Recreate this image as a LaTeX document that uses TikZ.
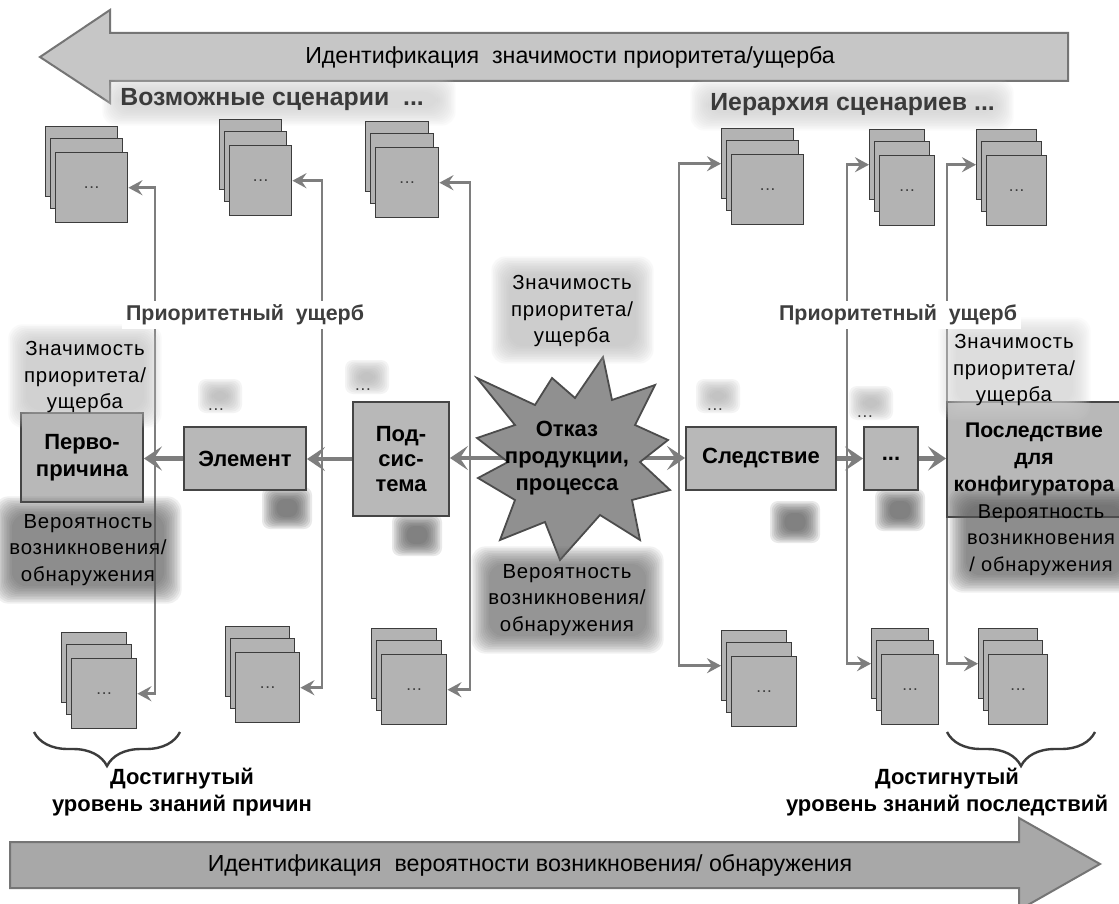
\documentclass[tikz,border=0pt]{standalone}
\usepackage{fontspec}
\setmainfont{Liberation Sans}
\newfontfamily\lblfont[LetterSpace=4]{Liberation Sans}
\usetikzlibrary{arrows.meta,decorations.pathreplacing}
\definecolor{pagefill}{HTML}{B3B3B3}
\definecolor{pageline}{HTML}{3C3C3C}
\definecolor{boxfill}{HTML}{B8B8B8}
\definecolor{boxline}{HTML}{454545}
\definecolor{lncol}{HTML}{7E7E7E}
\definecolor{toparrow}{HTML}{C6C6C6}
\definecolor{botarrow}{HTML}{A8A8A8}
\definecolor{arrline}{HTML}{757575}
\definecolor{starfill}{HTML}{909090}
\definecolor{headcol}{HTML}{3A3A3A}
\definecolor{prio}{HTML}{3E3E3E}
\newcommand{\fsNode}{\fontsize{11}{13.5}\selectfont\bfseries}
\newcommand{\fsLbl}{\fontsize{10.2}{13.3}\selectfont\lblfont}
\newcommand{\fsArrow}{\fontsize{11.6}{13}\selectfont}
\newcommand{\txglow}[5]{\foreach \ii in {0,...,11}{\fill[#5, opacity=0.085, rounded corners=7pt] ({#1-\ii*1.6+4},{#2-\ii*1.6+4}) rectangle ({#3+\ii*1.6-4},{#4+\ii*1.6-4});}}
\newcommand{\fuzzblob}[5]{\foreach \ii in {0,...,8}{\fill[#5, opacity=0.12, rounded corners=4pt] ({#1-#3/2+\ii*1.8},{#2-#4/2+\ii*1.5}) rectangle ({#1+#3/2-\ii*1.8},{#2+#4/2-\ii*1.5});}}
\newcommand{\pagestack}[4]{%
  \node[pagebox, minimum width=#4*0.5pt] (#1b) at (#2,#3) {};
  \node[pagebox, minimum width=#4*0.5pt] (#1m) at ({#2+5},{#3+12}) {};
  \node[pagebox, minimum width=#4*0.5pt] (#1f) at ({#2+10},{#3+26}) {};
  \node[font=\fontsize{8.5}{8.5}\selectfont\lblfont, text=pageline] at (#1f.center) {...};
}
\begin{document}
\begin{tikzpicture}[x=0.5pt,y=-0.5pt,
  pagebox/.style={draw=pageline, fill=pagefill, line width=0.7pt, inner sep=0pt, anchor=north west, minimum height=35pt},
  mainbox/.style={draw=boxline, fill=boxfill, line width=0.9pt, inner sep=0pt, align=center, font=\fsNode},
  conn/.style={draw=lncol, line width=1.4pt, -{Stealth[length=7pt,width=7.5pt,inset=2.5pt]}},
  chain/.style={draw=lncol, line width=2.4pt, -{Stealth[length=9pt,width=12pt,inset=4pt]}},
  bigarrow/.style={draw=arrline, line width=1pt},
  lbl/.style={font=\fsLbl, align=center, inner sep=1pt},
  prioLbl/.style={font=\fontsize{10.7}{12}\selectfont\bfseries, text=prio, fill=white, inner sep=2pt},
  head/.style={font=\fontsize{12.4}{14}\selectfont\bfseries, text=headcol, anchor=west, inner sep=0pt},
  bracesty/.style={draw=pageline, line width=1.2pt, decorate, decoration={brace, amplitude=17pt, aspect=0.5}},
  bracetxt/.style={font=\fsNode, align=center},
  dotlbl/.style={font=\fontsize{8.5}{8.5}\selectfont\lblfont, text=pageline}
]
\useasboundingbox (0,0) rectangle (1119,904);
\fill[white] (0,0) rectangle (1119,904);

% big arrows
\draw[bigarrow, fill=toparrow] (40,57) -- (110,10) -- (110,33) -- (1068,33) -- (1068,81) -- (110,81) -- (110,103) -- cycle;
\node[font=\fsArrow] (toptext) at (570,57) {Идентификация\ \ значимости приоритета/ущерба};
\draw[bigarrow, fill=botarrow] (10,842) -- (1019,842) -- (1019,818) -- (1100,864) -- (1019,910) -- (1019,888) -- (10,888) -- cycle;
\node[font=\fsArrow] (bottext) at (530,865) {Идентификация\ \ вероятности возникновения/ обнаружения};

% headings
\txglow{116}{88}{442}{112}{gray!40}
\node[head] (h1) at (120,100) {Возможные сценарии\ \ ...};
\txglow{704}{93}{1000}{117}{gray!40}
\node[head] (h2) at (710,105) {Иерархия сценариев\ ...};

% junction coordinates
\coordinate (v1) at (155,458);
\coordinate (v2) at (322,458);
\coordinate (v3) at (470,458);
\coordinate (v4) at (679,458);
\coordinate (v5) at (847,458);
\coordinate (v6) at (947,458);
\coordinate (starL) at (505,458);
\coordinate (starR) at (632,458);

% page stacks
\pagestack{S1}{45}{126}{72}
\pagestack{S2}{219}{119}{62}
\pagestack{S3}{365}{121}{63}
\pagestack{B1}{61}{632}{65}
\pagestack{B2}{225}{626}{64}
\pagestack{B3}{371}{628}{65}
\pagestack{R1}{721}{128}{72}
\pagestack{R2}{869}{129}{55}
\pagestack{R3}{976}{129}{60}
\pagestack{Q1}{721}{630}{65}
\pagestack{Q2}{871}{628}{57}
\pagestack{Q3}{978}{628}{59}

% vertical connectors
\draw[conn] (v1) |- (S1f.east);
\draw[conn] (v1) |- (B1f.east);
\draw[conn] (v2) |- (S2f.east);
\draw[conn] (v2) |- (B2f.east);
\draw[conn] (v3) |- (S3f.east);
\draw[conn] (v3) |- (B3f.east);
\draw[conn] (v4) |- (R1b.west);
\draw[conn] (v4) |- (Q1b.west);
\draw[conn] (v5) |- (R2b.west);
\draw[conn] (v5) |- (Q2b.west);
\draw[conn] (v6) |- (R3b.west);
\draw[conn] (v6) |- (Q3b.west);

% blobs
\fuzzblob{220}{396}{44}{34}{gray!65}
\fuzzblob{367}{377}{44}{34}{gray!65}
\fuzzblob{718}{396}{44}{34}{gray!65}
\fuzzblob{871}{403}{44}{34}{gray!65}
\fuzzblob{287}{508}{50}{42}{black!70}
\fuzzblob{417}{535}{50}{42}{black!70}
\fuzzblob{795}{522}{50}{42}{black!70}
\fuzzblob{900}{510}{50}{42}{black!70}
\node[dotlbl] (d1) at (216,410) {...};
\node[dotlbl] (d2) at (363,390) {...};
\node[dotlbl] (d3) at (715,410) {...};
\node[dotlbl] (d4) at (865,417) {...};

% main boxes
\node[mainbox, minimum width=61pt, minimum height=44.5pt] (pp) at (82,457.5) {Перво-\\причина};
\node[mainbox, minimum width=61pt, minimum height=31.5pt] (el) at (245,458.5) {Элемент};
\node[mainbox, minimum width=48pt, minimum height=57pt, font=\fontsize{11}{12.5}\selectfont\bfseries] (ps) at (401,459) {Под-\\сис-\\тема};
\node[mainbox, minimum width=75pt, minimum height=31.5pt] (sl) at (761,458.5) {Следствие};
\node[mainbox, minimum width=27pt, minimum height=31.5pt] (dd) at (891,458.5) {...};
\node[mainbox, minimum width=94pt, minimum height=57.5pt] (pc) at (1041,459.5) {};
\node[font=\fontsize{10.6}{13.5}\selectfont\bfseries, align=center] (pctext) at (1034,459.5) {Последствие\\для\\конфигуратора};

% chain arrows
\draw[chain] (el.west) -- (el.west -| pp.east);
\draw[chain] (ps.west) -- (ps.west -| el.east);
\draw[chain] (starL) -- (starL -| ps.east);
\draw[chain] (starR) -- (starR -| sl.west);
\draw[chain] (sl.east) -- (sl.east -| dd.west);
\draw[chain] (dd.east) -- (dd.east -| pc.west);

% star
\draw[draw=black!70, line width=0.9pt, fill=starfill] (603,357) -- (612,400) -- (655,385) -- (635,425) -- (668,440) -- (640,462) -- (670,490) -- (632,500) -- (640,540) -- (600,515) -- (560,560) -- (545,522) -- (500,540) -- (515,500) -- (478,478) -- (508,462) -- (477,438) -- (515,425) -- (477,378) -- (535,405) -- (552,378) -- (575,398) -- cycle;
\node[font=\fsNode, align=center] (star) at (567,458) {Отказ\\продукции,\\процесса};

% labels with glow
\txglow{22}{338}{148}{414}{gray!50}
\node[lbl] (lz) at (85,377) {Значимость\\приоритета/\\ущерба};
\txglow{8}{510}{168}{590}{black!65}
\node[lbl] (lv) at (88,550) {Вероятность\\возникновения/\\обнаружения};
\txglow{505}{270}{640}{350}{gray!55}
\node[lbl] (cz) at (572,311) {Значимость\\приоритета/\\ущерба};
\txglow{485}{560}{650}{640}{black!60}
\node[lbl] (cv) at (567,600) {Вероятность\\возникновения/\\обнаружения};
\txglow{952}{331}{1077}{407}{gray!35}
\node[lbl] (rz) at (1014,370) {Значимость\\приоритета/\\ущерба};
\txglow{962}{501}{1127}{579}{black!65}
\node[lbl, font=\fontsize{10}{13.3}\selectfont\lblfont] (rv) at (1041,540) {Вероятность\\возникновения\\/ обнаружения};

% priority labels
\node[prioLbl] (pl) at (245,315) {Приоритетный\ \ ущерб};
\node[prioLbl] (pr) at (898,315) {Приоритетный\ \ ущерб};

% braces
\coordinate (bl1) at (180,732);
\coordinate (bl2) at (34,732);
\coordinate (br1) at (1095,732);
\coordinate (br2) at (947,732);
\draw[bracesty] (bl1) -- (bl2);
\draw[bracesty] (br1) -- (br2);
\node[bracetxt] (bt1) at (182,792) {Достигнутый\\уровень знаний причин};
\node[bracetxt] (bt2) at (947,792) {Достигнутый\\уровень знаний последствий};
\end{tikzpicture}
\end{document}
